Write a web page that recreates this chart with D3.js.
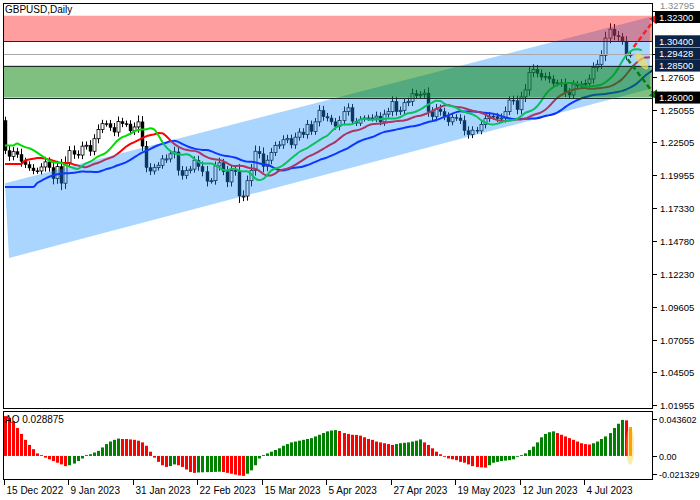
<!DOCTYPE html>
<html><head><meta charset="utf-8">
<script src="https://cdn.jsdelivr.net/npm/d3@7"></script>
<style>body{margin:0;background:#fff}text{font-family:"Liberation Sans",Arial,sans-serif}</style>
</head><body><svg id="c" width="700" height="500"></svg>
<script>
const firstOpen = 1.2420;
const closes = [1.2185,1.2140,1.2177,1.2155,1.2100,1.2076,1.2049,1.2027,1.2026,1.2057,1.2097,1.2052,1.1966,1.2060,1.1930,1.2090,
1.2185,1.2157,1.2150,1.2220,1.2227,1.2180,1.2278,1.2350,1.2396,1.2395,1.2366,1.2330,1.2412,1.2395,1.2393,1.2339,
1.2370,1.2410,1.2220,1.2052,1.2025,1.2052,1.2070,1.2120,1.2120,1.2160,1.2175,1.2030,1.1990,1.2030,1.2040,1.2110,
1.2060,1.2020,1.1945,1.1950,1.2065,1.2090,1.2020,1.1940,1.2030,1.2020,1.1830,1.1830,1.1950,1.2030,1.2180,1.2160,
1.2060,1.2110,1.2170,1.2225,1.2230,1.2270,1.2280,1.2230,1.2290,1.2330,1.2310,1.2390,1.2335,1.2410,1.2500,1.2450,
1.2440,1.2410,1.2375,1.2420,1.2490,1.2520,1.2415,1.2400,1.2430,1.2440,1.2440,1.2440,1.2455,1.2410,1.2470,1.2490,
1.2570,1.2490,1.2500,1.2560,1.2570,1.2630,1.2615,1.2625,1.2635,1.2490,1.2450,1.2510,1.2490,1.2450,1.2410,1.2445,
1.2440,1.2420,1.2340,1.2310,1.2345,1.2340,1.2390,1.2435,1.2455,1.2450,1.2435,1.2440,1.2490,1.2580,1.2575,1.2505,
1.2605,1.2660,1.2795,1.2820,1.2790,1.2760,1.2765,1.2745,1.2710,1.2715,1.2710,1.2640,1.2620,1.2705,1.2690,1.2705,
1.2710,1.2745,1.2835,1.2860,1.2930,1.3065,1.3135,1.3085,1.3075,1.3040,1.2930,1.2935];
// wick length in pips beyond the body
const wicks = [30,40,35,30,45,30,25,30,25,30,40,35,50,45,60,50,35,40,30,35,30,40,35,40,30,25,30,35,40,30,25,30,
35,50,45,40,35,30,25,30,35,30,40,45,35,30,25,30,35,40,45,20,35,40,30,45,40,35,60,45,40,50,45,40,
50,40,35,30,30,35,30,30,35,30,30,35,30,30,40,35,30,25,30,35,40,35,30,25,25,20,25,30,35,30,35,30,
40,35,30,35,30,40,30,25,30,45,35,40,35,30,35,30,25,30,40,35,30,25,30,35,30,25,30,35,40,30,35,40,
40,45,50,40,35,30,30,35,30,25,30,40,35,30,25,25,30,35,40,35,40,50,45,40,35,30,40,20];
const ao = [47,45,41,33,26,19,13,8,3,1,-2,-4,-6,-8,-10,-12,-11,-9,-6,-3,1,2,4,6,10,14,17,19,20.5,20,20,19.5,
19,18,16,12,5,-2,-7,-11,-13,-12,-10,-11,-13,-16,-19,-20,-19.5,-19.3,-19.1,-19,-18.8,-18.6,-19,-20,-21,-22,-23,-23.5,-21,-17,
-11,-3,1,3,5,7,9,12,14,16,17,18,19,20,21,23,25,27,29,30,30.5,29.5,27,26,25,24.8,24,22,20,19,17,16,
15,14,13,14,15,15.5,16,17,18,19.5,16,13,9,5,2,-1,-3,-4,-5,-7,-8,-10,-12,-13,-13.5,-13.8,-11,-8,-7,-6,
-5.5,-5,-4,-1,1,3,7,11,16,22,26,28,29,27,25,23,21,19,17,15,14,13.5,15,17,20,23,27,33,38,42.5,42,34];
// alligator line values at the left edge (from history before the window)
const maSeeds = {lips:1.2225, teeth:1.2080, jaw:1.1900};
const xLabels = ["15 Dec 2022","9 Jan 2023","31 Jan 2023","22 Feb 2023","15 Mar 2023","5 Apr 2023","27 Apr 2023","19 May 2023","12 Jun 2023","4 Jul 2023"];
const xLabelIdx = [0,16,32,48,64,80,96,112,128,144];
const priceTicks = [1.32795,1.29428,1.27605,1.25055,1.22505,1.19955,1.17330,1.14780,1.12230,1.09605,1.07055,1.04505,1.01955];
const levels = [{v:1.32300,bg:"#000"},{v:1.30400,bg:"#0b2346"},{v:1.29428,bg:"#0b2346"},{v:1.28500,bg:"#0b2346"},{v:1.26000,bg:"#000"}];
const redZone = [1.3240,1.3040], greenZone = [1.2850,1.2600];
const channel = [[0,1.1930],[160,1.3230],[160,1.2667],[1,1.1345]];
const aoTicks = [0.043602,0,-0.021329];

const svg = d3.select("#c");
const X0=3, X1=652, N=closes.length;
const x = d3.scaleLinear().domain([0,161]).range([X0+2, X0+2+161*4.03]);
const y = d3.scaleLinear().domain([1.01955,1.32300]).range([405,17]);
const ya = d3.scaleLinear().domain([-0.021329,0.043602]).range([474,419]);
svg.append("clipPath").attr("id","cm").append("rect").attr("x",X0).attr("y",3).attr("width",X1-X0).attr("height",405);
const g = svg.append("g").attr("clip-path","url(#cm)");

const opens = closes.map((c,i)=> i===0?firstOpen:closes[i-1]);
const cg = g.append("g");
closes.forEach((c,i)=>{
  const o=opens[i], top=Math.max(o,c), bot=Math.min(o,c), w=wicks[i]/10000;
  const cx = Math.round(x(i))+0.5;
  cg.append("line").attr("x1",cx).attr("x2",cx).attr("y1",y(top+w)).attr("y2",y(bot-w*0.9)).attr("stroke","#000");
  cg.append("rect").attr("x",cx-1.5).attr("width",3).attr("y",y(top)).attr("height",Math.max(1,y(bot)-y(top)))
    .attr("fill",c>=o?"#fff":"#000").attr("stroke","#000").attr("stroke-width",c>=o?0.8:0.4);
});

const med = closes.map((c,i)=>{const o=opens[i],w=wicks[i]/10000;return (Math.max(o,c)+w+Math.min(o,c)-w*0.9)/2;});
function drawMA(p,shift,seed,col){
  const pts=[];let s=seed;
  for(let j=0;j<shift;j++) pts.push([j,seed]);
  for(let i=0;i<N;i++){s=(s*(p-1)+med[i])/p;pts.push([i+shift,s]);}
  g.append("path").attr("d",d3.line().x(d=>x(d[0])).y(d=>y(d[1])).curve(d3.curveMonotoneX)(pts)).attr("fill","none").attr("stroke",col).attr("stroke-width",2);
}
drawMA(13,8,maSeeds.jaw,"#0000ff");drawMA(8,5,maSeeds.teeth,"#ff0000");drawMA(5,3,maSeeds.lips,"#00dd00");

g.append("path").attr("d",d3.line().x(d=>x(d[0])).y(d=>y(d[1]))(channel)+"Z").attr("fill","#1e90ff").attr("opacity",0.38);
g.append("rect").attr("x",X0).attr("width",X1-X0).attr("y",y(redZone[0])).attr("height",y(redZone[1])-y(redZone[0])).attr("fill","#ff0000").attr("opacity",0.38);
g.append("rect").attr("x",X0).attr("width",X1-X0).attr("y",y(greenZone[0])).attr("height",y(greenZone[1])-y(greenZone[0])).attr("fill","#008000").attr("opacity",0.5);
[redZone[1],greenZone[0],greenZone[1]].forEach(v=>g.append("line").attr("x1",X0).attr("x2",X1).attr("y1",Math.round(y(v))+0.5).attr("y2",Math.round(y(v))+0.5).attr("stroke","#1a2a2a"));
g.append("line").attr("x1",X0).attr("x2",X1).attr("y1",Math.round(y(1.29428))+0.5).attr("y2",Math.round(y(1.29428))+0.5).attr("stroke","#aaa");

const defs=svg.append("defs");
[["r","#ff2020"],["gr","#0a7a0a"]].forEach(([id,c])=>defs.append("marker").attr("id",id).attr("viewBox","0 0 10 10").attr("refX",5).attr("refY",5).attr("markerWidth",4).attr("markerHeight",4).attr("orient","auto").append("path").attr("d","M0,0L10,5L0,10Z").attr("fill",c));
svg.append("ellipse").attr("cx",x(158)).attr("cy",y(1.2885)).attr("rx",4).attr("ry",10).attr("transform",`rotate(-35,${x(158)},${y(1.2885)})`).attr("fill","#f0e060").attr("opacity",0.7);
svg.append("line").attr("x1",x(156)).attr("y1",y(1.2995)).attr("x2",x(161.5)).attr("y2",y(1.3225)).attr("stroke","#ff2020").attr("stroke-width",2.5).attr("stroke-dasharray","5,3").attr("marker-end","url(#r)");
svg.append("line").attr("x1",x(154.5)).attr("y1",y(1.2900)).attr("x2",x(161.5)).attr("y2",y(1.2610)).attr("stroke","#0a7a0a").attr("stroke-width",2.5).attr("stroke-dasharray","5,3").attr("marker-end","url(#gr)");

svg.append("rect").attr("x",X0+0.5).attr("y",3.5).attr("width",X1-X0).attr("height",405).attr("fill","none").attr("stroke","#000");
svg.append("rect").attr("x",X0+0.5).attr("y",411.5).attr("width",X1-X0).attr("height",68).attr("fill","none").attr("stroke","#000");
svg.append("text").attr("x",5).attr("y",13).attr("font-size",10).text("GBPUSD,Daily");

const ax=svg.append("g").attr("font-size",9.5);
priceTicks.forEach(v=>{const yy=Math.round(y(v))+0.5;ax.append("line").attr("x1",X1+1).attr("x2",X1+5).attr("y1",yy).attr("y2",yy).attr("stroke","#000");
 if(v<1.325) ax.append("text").attr("x",X1+8).attr("y",yy+3.5).text(v.toFixed(5));});
ax.append("text").attr("x",X1+8).attr("y",9).attr("fill","#888").text((1.32795).toFixed(5));
levels.forEach(l=>{const yy=y(l.v);ax.append("rect").attr("x",X1+3).attr("y",yy-6).attr("width",45).attr("height",12).attr("fill",l.bg);
 ax.append("text").attr("x",X1+7).attr("y",yy+3.5).attr("fill","#fff").text(l.v.toFixed(5));});

ao.forEach((v,i)=>{const val=v/1000;const up=i===0?false:v>ao[i-1];
 const col=i===N-1?"#ff8000":(up?"#008000":"#ff0000");
 svg.append("rect").attr("x",Math.round(x(i))-1).attr("width",3).attr("y",Math.min(ya(val),ya(0))).attr("height",Math.abs(ya(val)-ya(0))).attr("fill",col);});
svg.append("ellipse").attr("cx",x(155)+0.5).attr("cy",ya(0.012)).attr("rx",4).attr("ry",19).attr("fill","#f5d020").attr("opacity",0.4);
svg.append("text").attr("x",5).attr("y",423).attr("font-size",10).text("AO 0.028875");
aoTicks.forEach(v=>{const yy=Math.round(ya(v))+0.5;ax.append("line").attr("x1",X1+1).attr("x2",X1+5).attr("y1",yy).attr("y2",yy).attr("stroke","#000");
 ax.append("text").attr("x",X1+7).attr("y",yy+3.5).attr("font-size",9).text(v===0?"0.00":v.toFixed(6));});

xLabelIdx.forEach((ix,k)=>{const xx=Math.round(x(ix))-0.5;svg.append("line").attr("x1",xx).attr("x2",xx).attr("y1",480).attr("y2",485).attr("stroke","#000");
 svg.append("text").attr("x",xx+2).attr("y",494).attr("font-size",10).text(xLabels[k]);});
</script></body></html>
